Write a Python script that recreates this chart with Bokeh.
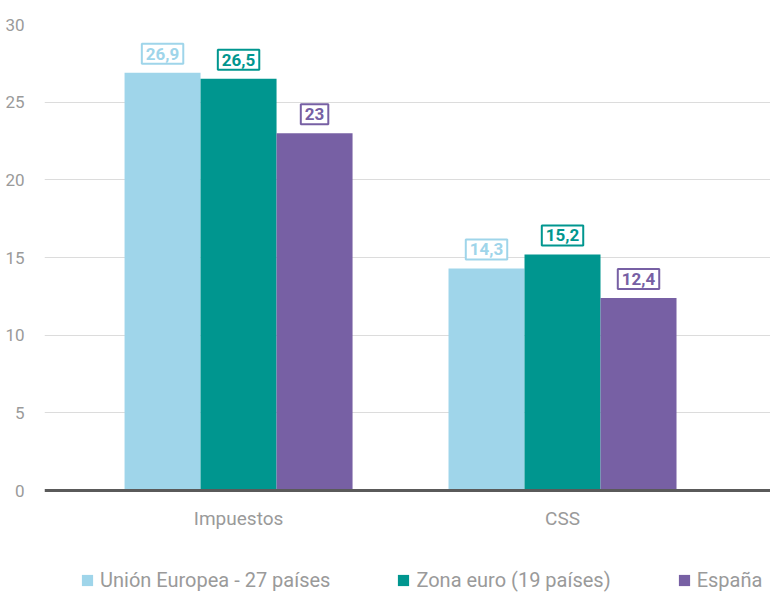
from bokeh.plotting import figure
from bokeh.models import (ColumnDataSource, Range1d, FixedTicker, Legend, LegendItem, Span)
from bokeh.core.properties import value
from bokeh.embed import file_html
from bokeh.resources import INLINE

categories = ["Impuestos", "CSS"]
series_names = ["Unión Europea - 27 países", "Zona euro (19 países)", "España"]
ue_values = [26.9, 14.3]
ze_values = [26.5, 15.2]
es_values = [23.0, 12.4]
y_ticks = [0, 5, 10, 15, 20, 25, 30]

colors = ["#9fd5ea", "#00968f", "#7760a4"]
all_values = [ue_values, ze_values, es_values]

FONT = "Roboto"
GRAY = "#9a9a9a"

# frame covers the chart plus the area below it (category labels and legend)
p = figure(frame_width=726, frame_height=570, output_backend="svg", toolbar_location=None,
           x_range=Range1d(-0.599, 1.642), y_range=Range1d(-6.695, 30),
           min_border_left=44, min_border_right=0, min_border_top=24, min_border_bottom=0)
p.outline_line_color = None
p.background_fill_color = "white"
p.border_fill_color = "white"

bw = 0.2346
offsets = [-bw, 0.0, bw]
items = []
for name, vals, col, off in zip(series_names, all_values, colors, offsets):
    xs = [i + off for i in range(len(categories))]
    src = ColumnDataSource(dict(x=xs, top=vals, lab=[("%g" % v).replace(".", ",") for v in vals]))
    r = p.vbar(x="x", top="top", width=bw, bottom=0, source=src, fill_color=col, line_color=None)
    items.append(LegendItem(label=name, renderers=[r]))
    p.text(x="x", y="top", text="lab", source=src, text_align="center", text_baseline="bottom",
           y_offset=-9, text_color=col, text_font=value(FONT), text_font_style="bold", text_font_size="17px",
           background_fill_color="white", border_line_color=col, border_line_width=2, padding=4)

# zero baseline
p.add_layout(Span(location=0, dimension="width", line_color="#5a5a5a", line_width=3))

# category labels
cat_src = ColumnDataSource(dict(x=list(range(len(categories))), y=[0] * len(categories), t=categories))
p.text(x="x", y="y", text="t", source=cat_src, text_align="center", text_baseline="middle",
       y_offset=28, text_color=GRAY, text_font=value(FONT), text_font_size="19px")

p.xaxis.visible = False
p.yaxis.ticker = FixedTicker(ticks=y_ticks)
p.yaxis.axis_line_color = None
p.yaxis.major_tick_line_color = None
p.yaxis.minor_tick_line_color = None
p.yaxis.major_label_text_color = GRAY
p.yaxis.major_label_text_font = FONT
p.yaxis.major_label_text_font_size = "17px"
p.yaxis.major_label_standoff = 14

p.xgrid.grid_line_color = None
p.ygrid.ticker = FixedTicker(ticks=y_ticks[1:])
p.ygrid.grid_line_color = "#dcdcdc"
p.ygrid.grid_line_width = 1

legend = Legend(items=items, orientation="horizontal", location=(36, 2),
                glyph_width=14, glyph_height=14, label_standoff=6, spacing=66,
                label_text_font=FONT, label_text_font_size="20px", label_text_color=GRAY,
                border_line_color=None, background_fill_alpha=0, padding=0, margin=0)
p.add_layout(legend, "center")

open("out.html", "w").write(file_html(p, INLINE))
